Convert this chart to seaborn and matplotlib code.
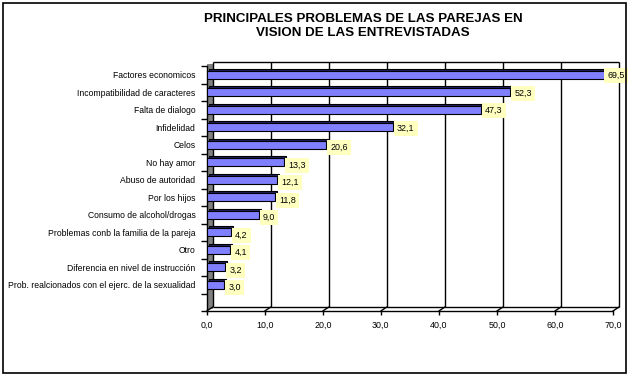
import numpy as np
import pandas as pd
import seaborn as sns
import matplotlib.pyplot as plt
from matplotlib.transforms import ScaledTranslation
from matplotlib.patches import Rectangle

problemas = ['Factores economicos', 'Incompatibilidad de caracteres', 'Falta de dialogo',
             'Infidelidad', 'Celos', 'No hay amor', 'Abuso de autoridad', 'Por los hijos',
             'Consumo de alcohol/drogas', 'Problemas conb la familia de la pareja', 'Otro',
             'Diferencia en nivel de instrucción',
             'Prob. realcionados con el ejerc. de la sexualidad']
porcentaje = [69.5, 52.3, 47.3, 32.1, 20.6, 13.3, 12.1, 11.8, 9.0, 4.2, 4.1, 3.2, 3.0]
xticks = [0, 10, 20, 30, 40, 50, 60, 70]

df = pd.DataFrame({'problema': problemas, 'pct': porcentaje})

sns.set_style('white', {'text.color': 'black', 'xtick.color': 'black',
                        'ytick.color': 'black', 'axes.labelcolor': 'black'})
plt.rcParams['font.family'] = ['Liberation Sans', 'DejaVu Sans']

W, H = 629, 388
fig = plt.figure(figsize=(W / 100, H / 100), dpi=100)
ax = fig.add_axes([206.7 / W, 1 - 311 / H, (613 - 206.7) / W, (311 - 66) / H])

# pseudo 3D offset (back plane)
px = 1 / 100
back = ax.transData + ScaledTranslation(6 * px, 4 * px, fig.dpi_scale_trans)
bar_back = ax.transData + ScaledTranslation(2 * px, 2 * px, fig.dpi_scale_trans)

# back wall grid
ax.vlines(xticks[1:], -0.5, 13.5, color='black', lw=1, transform=back, zorder=1, clip_on=False)
ax.hlines([-0.5, 13.5], 0, 70, color='black', lw=1, transform=back, zorder=1, clip_on=False)
ax.plot([0, 0], [-0.5, 13.5], color='#808080', lw=4.3, solid_capstyle='butt', clip_on=False,
        transform=ax.transData + ScaledTranslation(3 * px, 2 * px, fig.dpi_scale_trans), zorder=1)
ax.vlines(0, -0.5, 13.5, color='black', lw=1, transform=back, zorder=1, clip_on=False)
for t in xticks:
    ax.annotate('', xy=(t, 13.5), xytext=(6, 4), textcoords='offset pixels',
                arrowprops=dict(arrowstyle='-', color='black', lw=1, shrinkA=0, shrinkB=0),
                annotation_clip=False)

# bars: dark depth layer then front face
sns.barplot(data=df, x='pct', y='problema', orient='h', color='#202060', width=0.45,
            saturation=1, edgecolor='black', linewidth=0.8, ax=ax, zorder=2)
for p in ax.patches:
    p.set_transform(bar_back)
sns.barplot(data=df, x='pct', y='problema', orient='h', color='#8080ff', width=0.45,
            saturation=1, edgecolor='black', linewidth=0.8, ax=ax, zorder=3)

# value labels
for i, v in enumerate(porcentaje):
    dy = -1 if v > 30 else -3
    dx = -3 if v > 60 else 4
    ax.annotate(f'{v:.1f}'.replace('.', ','), xy=(v, i), xytext=(dx, dy),
                textcoords='offset pixels', ha='left', va='center', fontsize=6.4,
                bbox=dict(boxstyle='square,pad=0.35', fc='#ffffc0', ec='none'), zorder=5)

ax.set_xlim(0, 70)
ax.set_ylim(13.5, -0.5)
ax.set_xticks(xticks)
ax.set_xticklabels([f'{t:.1f}'.replace('.', ',') for t in xticks], fontsize=6.4)
ax.set_yticks(range(len(problemas)))
ax.set_yticklabels(problemas, fontsize=6.2)
ax.set_yticks(np.arange(-0.5, 13.6, 1), minor=True)
ax.tick_params(axis='y', which='major', length=0, pad=8)
ax.tick_params(axis='y', which='minor', length=4, width=1, color='black', left=True)
ax.tick_params(axis='x', length=3, width=1, color='black', bottom=True, pad=4)
ax.set_xlabel('')
ax.set_ylabel('')
ax.patch.set_alpha(0)
for s in ['top', 'right']:
    ax.spines[s].set_visible(False)
for s in ['left', 'bottom']:
    ax.spines[s].set_color('black')
    ax.spines[s].set_linewidth(1)

fig.text(363 / W, 1 - 26 / H,
         'PRINCIPALES PROBLEMAS DE LAS PAREJAS EN\nVISION DE LAS ENTREVISTADAS',
         ha='center', va='center', fontsize=9.6, fontweight='bold',
         family='Liberation Sans', linespacing=1.2)

fig.patches.append(Rectangle((3 / W, 1 - 373 / H), 623 / W, 370 / H, transform=fig.transFigure,
                             fill=False, ec='black', lw=1.2))

fig.savefig('out.png', dpi=100)
